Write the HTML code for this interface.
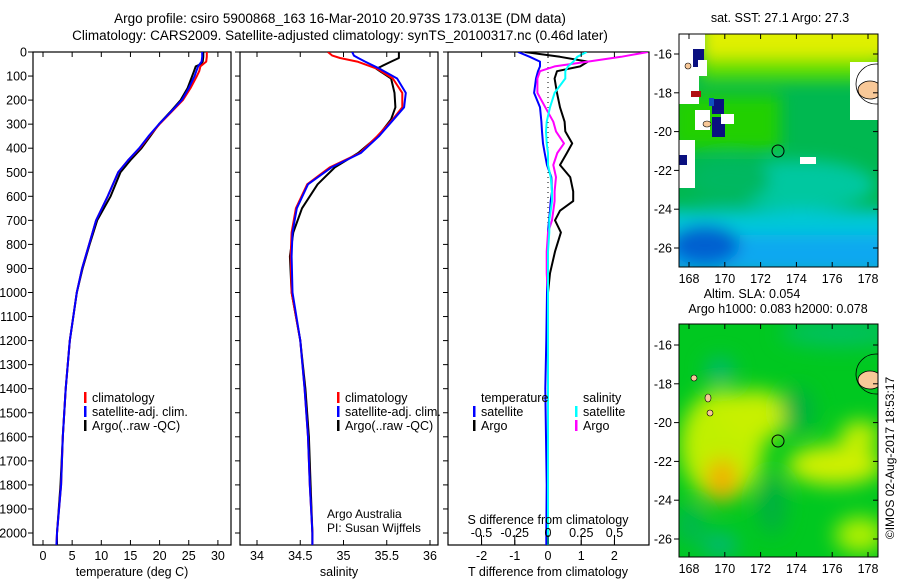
<!DOCTYPE html>
<html><head><meta charset="utf-8">
<style>
html,body{margin:0;padding:0;background:#fff;}
svg{display:block;font-family:"Liberation Sans",sans-serif;}
text{fill:#000;}
</style></head>
<body>
<svg id="chart" width="900" height="580" viewBox="0 0 900 580" xmlns="http://www.w3.org/2000/svg">
<defs>
  <clipPath id="clipP1"><rect x="33" y="52" width="198" height="493"/></clipPath>
  <clipPath id="clipP2"><rect x="240" y="52" width="198" height="493"/></clipPath>
  <clipPath id="clipP3"><rect x="448" y="52" width="201" height="493"/></clipPath>
  <clipPath id="clipM1"><rect x="679" y="34" width="199" height="233"/></clipPath>
  <clipPath id="clipM2"><rect x="679" y="324" width="199" height="233"/></clipPath>
  <filter id="blur1" x="-20%" y="-20%" width="140%" height="140%"><feGaussianBlur stdDeviation="8"/></filter>
  <filter id="blur2" x="-20%" y="-20%" width="140%" height="140%"><feGaussianBlur stdDeviation="10"/></filter>
</defs>

<text x="340" y="23" font-size="13.5" text-anchor="middle">Argo profile: csiro 5900868_163 16-Mar-2010 20.973S 173.013E (DM data)</text>
<text x="340" y="40" font-size="13.5" text-anchor="middle">Climatology: CARS2009. Satellite-adjusted climatology: synTS_20100317.nc (0.46d later)</text>

<!-- map 1 -->
<g>
  <text x="780" y="22" font-size="12.5" text-anchor="middle">sat. SST: 27.1 Argo: 27.3</text>
  <g clip-path="url(#clipM1)">
    <rect x="679" y="34" width="199" height="233" fill="#00b850"/>
    <g filter="url(#blur1)">
      <rect x="700" y="15" width="200" height="45" fill="#e0f000"/>
      <rect x="700" y="58" width="180" height="22" fill="#60e000"/>
      <rect x="670" y="95" width="110" height="55" fill="#20d000"/>
      <ellipse cx="800" cy="185" rx="75" ry="25" fill="#00c8a0"/>
      <ellipse cx="730" cy="180" rx="40" ry="22" fill="#00b860"/>
      <rect x="660" y="210" width="240" height="30" fill="#00c8d8"/>
      <rect x="660" y="235" width="240" height="40" fill="#10a8f0"/>
      <ellipse cx="705" cy="245" rx="35" ry="20" fill="#0060d0"/>
    </g>
    <rect x="679" y="34" width="20" height="70" fill="#fff"/>
    <rect x="693" y="34" width="12" height="15" fill="#fff"/>
    <rect x="693" y="49" width="11" height="18" fill="#0a1080"/>
    <rect x="698" y="60" width="9" height="16" fill="#fff"/>
    <rect x="712" y="99" width="12" height="15" fill="#0a1080"/>
    <rect x="709" y="98" width="5" height="8" fill="#1050c0"/>
    <rect x="691" y="91" width="10" height="6" fill="#b01010"/>
    <rect x="695" y="110" width="15" height="20" fill="#fff"/>
    <rect x="712" y="117" width="13" height="20" fill="#0a1080"/>
    <rect x="721" y="114" width="13" height="10" fill="#fff"/>
    <rect x="679" y="140" width="16" height="48" fill="#fff"/>
    <rect x="679" y="155" width="8" height="10" fill="#0a1080"/>
    <rect x="800" y="157" width="16" height="7" fill="#fff"/>
    <rect x="850" y="62" width="28" height="58" fill="#fff"/>
    <ellipse cx="870" cy="90" rx="12" ry="9" fill="#f8c898" stroke="#000" stroke-width="0.8"/>
    <circle cx="876" cy="84" r="20" fill="none" stroke="#000" stroke-width="0.8"/>
    <ellipse cx="707" cy="124" rx="4" ry="3" fill="#f8c898" stroke="#000" stroke-width="0.6"/>
    <ellipse cx="688" cy="66" rx="3" ry="3" fill="#f8c898" stroke="#000" stroke-width="0.6"/>
  </g>
  <circle cx="778" cy="151" r="6" fill="none" stroke="#000" stroke-width="1"/>
  <rect x="679" y="34" width="199" height="233" fill="none" stroke="#000" stroke-width="1"/>
  <g id="m1ticks" font-size="12.5"></g>
</g>

<!-- map 2 -->
<g>
  <text x="752" y="298" font-size="12.5" text-anchor="middle">Altim. SLA: 0.054</text>
  <text x="778" y="313" font-size="12.5" text-anchor="middle">Argo h1000: 0.083 h2000: 0.078</text>
  <g clip-path="url(#clipM2)">
    <rect x="679" y="324" width="199" height="233" fill="#00c820"/>
    <g filter="url(#blur2)">
      <ellipse cx="722" cy="445" rx="42" ry="55" fill="#c0f000"/>
      <ellipse cx="755" cy="415" rx="35" ry="25" fill="#c8f000"/>
      <ellipse cx="722" cy="480" rx="16" ry="22" fill="#f0b000"/>
      <ellipse cx="835" cy="465" rx="48" ry="20" fill="#d0f000"/>
      <ellipse cx="860" cy="435" rx="20" ry="14" fill="#c8f000"/>
      <ellipse cx="840" cy="333" rx="60" ry="14" fill="#00c060"/>
      <ellipse cx="720" cy="370" rx="14" ry="12" fill="#00b878"/>
      <ellipse cx="720" cy="545" rx="18" ry="12" fill="#00b878"/>
      <ellipse cx="798" cy="410" rx="16" ry="22" fill="#00b040"/>
      <ellipse cx="772" cy="505" rx="14" ry="30" fill="#00b040"/>
      <ellipse cx="860" cy="535" rx="25" ry="18" fill="#b0f000"/>
      <ellipse cx="690" cy="525" rx="14" ry="20" fill="#00b850"/>
    </g>
    <ellipse cx="870" cy="380" rx="12" ry="9" fill="#f8c898" stroke="#000" stroke-width="0.8"/>
    <circle cx="876" cy="374" r="20" fill="none" stroke="#000" stroke-width="0.8"/>
    <ellipse cx="694" cy="378" rx="3" ry="3" fill="#f8c898" stroke="#000" stroke-width="0.6"/>
    <ellipse cx="708" cy="398" rx="3" ry="4" fill="#f8c898" stroke="#000" stroke-width="0.6"/>
    <ellipse cx="710" cy="413" rx="3" ry="3" fill="#f8c898" stroke="#000" stroke-width="0.6"/>
  </g>
  <circle cx="778" cy="441" r="6" fill="none" stroke="#000" stroke-width="1"/>
  <rect x="679" y="324" width="199" height="233" fill="none" stroke="#000" stroke-width="1"/>
  <g id="m2ticks" font-size="12.5"></g>
</g>
<text x="0" y="0" font-size="12" transform="translate(894,458) rotate(-90)" text-anchor="middle">©IMOS 02-Aug-2017 18:53:17</text>

<g id="plots"></g>
</svg>

<script>
// ---- data ----
const tDepths = [0,20,40,50,60,80,100,150,200,250,300,350,400,450,500,600,700,800,900,1000,1200,1400,1600,1800,2000,2050];
const tempClim = [28.1,28.1,28.0,27.5,27.0,26.8,26.4,25.3,24.0,22.0,20.0,18.2,16.6,14.6,12.9,11.1,9.1,7.9,6.7,5.8,4.6,3.9,3.4,3.1,2.4,2.3];
const tempSat  = [27.3,27.3,27.2,26.9,26.6,26.3,26.0,25.0,23.8,21.9,19.9,18.1,16.5,14.6,12.9,11.1,9.1,7.9,6.7,5.8,4.6,3.9,3.4,3.1,2.4,2.3];
const tempArgo = [27.5,27.5,27.4,27.1,26.2,25.9,25.6,24.8,23.6,21.8,19.9,18.4,16.9,15.0,13.3,11.6,9.3,8.0,6.8,5.8,4.6,3.9,3.4,3.0,2.4,2.4];

const sDepths = [0,15,25,40,70,110,170,230,280,350,420,480,550,650,750,850,1000,1200,1400,1600,1800,2000,2050];
const salClim = [34.82,34.87,34.96,35.16,35.39,35.57,35.68,35.68,35.57,35.39,35.19,34.84,34.58,34.45,34.40,34.39,34.40,34.50,34.55,34.59,34.61,34.64,34.64];
const salSat  = [35.10,35.12,35.17,35.25,35.42,35.62,35.72,35.70,35.58,35.41,35.20,34.86,34.59,34.46,34.41,34.40,34.41,34.50,34.55,34.59,34.61,34.64,34.64];
const salArgo = [35.64,35.64,35.64,35.55,35.38,35.55,35.59,35.60,35.55,35.40,35.17,34.90,34.70,34.52,34.42,34.38,34.40,34.50,34.56,34.60,34.62,34.64,34.64];

const dDepths = [0,20,40,60,80,110,170,230,290,330,380,420,470,520,580,620,660,700,750,830,920,1000,1200,1400,1600,1800,2000,2050];
const tDiffArgo = [-0.7,0.36,1.2,0.97,0.27,0.2,0.27,0.36,0.5,0.52,0.73,0.57,0.36,0.67,0.76,0.76,0.36,0.21,0.39,0.21,0.06,0,0,0,0,0,0,0];
const tDiffSat  = [-0.9,-0.55,-0.24,-0.24,-0.3,-0.36,-0.42,-0.24,-0.2,-0.18,-0.15,-0.1,-0.03,0.1,0.12,0.08,0.06,0.03,0,0,-0.02,-0.03,-0.05,-0.08,-0.06,-0.04,-0.05,-0.05];
const sDiffArgo = [0.75,0.55,0.3,0.05,-0.06,-0.08,-0.08,-0.02,0.04,0.06,0.12,0.07,0.04,0.06,0.05,0.05,0.04,0.03,0.0,-0.01,-0.01,0,0,0,0,0,0,0];
const sDiffSat  = [0.29,0.22,0.19,0.15,0.13,0.13,0.05,0.015,-0.01,-0.015,-0.01,0,0,0.02,0.03,0.03,0.02,0.01,0.01,0,0,0,0,0,0,0,0,0];

const depthTicks = [0,100,200,300,400,500,600,700,800,900,1000,1100,1200,1300,1400,1500,1600,1700,1800,1900,2000];
const tempTicks = [0,5,10,15,20,25,30];
const salTicks = [34,34.5,35,35.5,36];
const salTickLabels = ["34","34.5","35","35.5","36"];
const tDiffTicks = [-2,-1,0,1,2];
const sDiffTicks = [-0.5,-0.25,0,0.25,0.5];
const sDiffTickLabels = ["-0.5","-0.25","0","0.25","0.5"];
const lonTicks = [168,170,172,174,176,178];
const latTicks = [-16,-18,-20,-22,-24,-26];

// ---- scales ----
const TOP = 52, BOT = 545;
const yD = d => TOP + d * 0.2405;
const xT = t => 43 + t * 5.83;
const xS = s => 257 + (s - 34) * 86.5;
const xTD = v => 548 + v * 33.2;
const xSD = v => 548 + v * 133;
const xLon = lon => 689 + (lon - 168) * 17.9;
const yLat1 = lat => 54 + (-16 - lat) * 19.4;
const yLat2 = lat => 345 + (-16 - lat) * 19.4;

const NS = "http://www.w3.org/2000/svg";
const root = document.getElementById('plots');
function mk(tag, attrs, parent) {
  const e = document.createElementNS(NS, tag);
  for (const k in attrs) e.setAttribute(k, attrs[k]);
  (parent || root).appendChild(e);
  return e;
}
function line(parent, vals, depths, xf, color, name, w) {
  const pts = vals.map((v, i) => xf(v).toFixed(1) + ',' + yD(depths[i]).toFixed(1)).join(' ');
  const p = mk('polyline', {points: pts, fill: 'none', stroke: color, 'stroke-width': w || 2, 'stroke-linejoin': 'round'}, parent);
  
  
  return p;
}
function txt(parent, x, y, s, anchor, size) {
  const t = mk('text', {x: x, y: y, 'font-size': size || 12.5, 'text-anchor': anchor || 'middle'}, parent);
  t.textContent = s;
  return t;
}

function panel(x0, w, clip, name) {
  const g = mk('g', {});
  
  
  mk('rect', {x: x0, y: TOP, width: w, height: BOT - TOP, fill: 'none', stroke: '#000', 'stroke-width': 1.2}, g);
  depthTicks.forEach(d => {
    mk('line', {x1: x0 - 5, x2: x0, y1: yD(d), y2: yD(d), stroke: '#000'}, g);
  });
  const inner = mk('g', {'clip-path': 'url(#' + clip + ')'}, g);
  return {g: g, inner: inner};
}

// Panel 1: temperature
const p1 = panel(33, 198, 'clipP1', 'temperature-panel');
const yAxis = mk('g', {});


depthTicks.forEach(d => {
  const t = txt(yAxis, 27, yD(d) + 4.5, String(d), 'end');
  
  
});
tempTicks.forEach(t => {
  mk('line', {x1: xT(t), x2: xT(t), y1: TOP, y2: TOP + 5, stroke: '#000'}, p1.g);
  mk('line', {x1: xT(t), x2: xT(t), y1: BOT, y2: BOT - 5, stroke: '#000'}, p1.g);
  txt(p1.g, xT(t), 560, String(t));
});
txt(p1.g, 132, 576, 'temperature (deg C)');
line(p1.inner, tempArgo, tDepths, xT, '#000', 'temp-argo-line');
line(p1.inner, tempClim, tDepths, xT, '#f00', 'temp-climatology-line');
line(p1.inner, tempSat, tDepths, xT, '#00f', 'temp-satellite-line');

// Panel 2: salinity
const p2 = panel(240, 198, 'clipP2', 'salinity-panel');
salTicks.forEach((s, i) => {
  mk('line', {x1: xS(s), x2: xS(s), y1: TOP, y2: TOP + 5, stroke: '#000'}, p2.g);
  mk('line', {x1: xS(s), x2: xS(s), y1: BOT, y2: BOT - 5, stroke: '#000'}, p2.g);
  txt(p2.g, xS(s), 560, salTickLabels[i]);
});
txt(p2.g, 339, 576, 'salinity');
txt(p2.g, 327, 518, 'Argo Australia', 'start', 12);
txt(p2.g, 327, 532, 'PI: Susan Wijffels', 'start', 12);
line(p2.inner, salArgo, sDepths, xS, '#000', 'sal-argo-line');
line(p2.inner, salClim, sDepths, xS, '#f00', 'sal-climatology-line');
line(p2.inner, salSat, sDepths, xS, '#00f', 'sal-satellite-line');

// Panel 3: differences
const p3 = panel(448, 201, 'clipP3', 'difference-panel');
tDiffTicks.forEach(v => {
  mk('line', {x1: xTD(v), x2: xTD(v), y1: TOP, y2: TOP + 5, stroke: '#000'}, p3.g);
  mk('line', {x1: xTD(v), x2: xTD(v), y1: BOT, y2: BOT - 5, stroke: '#000'}, p3.g);
  txt(p3.g, xTD(v), 560, String(v));
});
sDiffTicks.forEach((v, i) => {
  mk('line', {x1: xSD(v), x2: xSD(v), y1: BOT, y2: BOT - 10, stroke: '#000'}, p3.g);
  txt(p3.g, xSD(v), 537, sDiffTickLabels[i]);
});
txt(p3.g, 548, 524, 'S difference from climatology');
txt(p3.g, 548, 576, 'T difference from climatology');
mk('line', {x1: 548, x2: 548, y1: TOP, y2: yD(1000), stroke: '#000', 'stroke-dasharray': '1,4'}, p3.inner);
line(p3.inner, tDiffArgo, dDepths, xTD, '#000', 'tdiff-argo-line');
line(p3.inner, tDiffSat, dDepths, xTD, '#00f', 'tdiff-satellite-line');
line(p3.inner, sDiffArgo, dDepths, xSD, '#f0f', 'sdiff-argo-line');
line(p3.inner, sDiffSat, dDepths, xSD, '#0ff', 'sdiff-satellite-line');

// Legends
function legend(parent, x, y, color, label, name) {
  const g = mk('g', {}, parent);
  
  
  if (color) mk('rect', {x: x, y: y - 10, width: 2.5, height: 11, fill: color}, g);
  txt(g, x + 8, y, label, 'start', 12.5);
}
legend(p1.g, 84, 402, '#f00', 'climatology', 'legend-climatology');
legend(p1.g, 84, 416, '#00f', 'satellite-adj. clim.', 'legend-satellite-adj');
legend(p1.g, 84, 430, '#000', 'Argo(..raw -QC)', 'legend-argo');
legend(p2.g, 337, 402, '#f00', 'climatology', 'legend-climatology');
legend(p2.g, 337, 416, '#00f', 'satellite-adj. clim.', 'legend-satellite-adj');
legend(p2.g, 337, 430, '#000', 'Argo(..raw -QC)', 'legend-argo');
legend(p3.g, 473, 402, null, 'temperature', 'legend-temperature-header');
legend(p3.g, 473, 416, '#00f', 'satellite', 'legend-temp-satellite');
legend(p3.g, 473, 430, '#000', 'Argo', 'legend-temp-argo');
legend(p3.g, 575, 402, null, 'salinity', 'legend-salinity-header');
legend(p3.g, 575, 416, '#0ff', 'satellite', 'legend-sal-satellite');
legend(p3.g, 575, 430, '#f0f', 'Argo', 'legend-sal-argo');

// Map ticks
function mapTicks(gid, yLat, top, bot) {
  const g = document.getElementById(gid);
  latTicks.forEach(l => {
    mk('line', {x1: 674, x2: 679, y1: yLat(l), y2: yLat(l), stroke: '#000'}, g);
    mk('line', {x1: 873, x2: 878, y1: yLat(l), y2: yLat(l), stroke: '#000'}, g);
    txt(g, 672, yLat(l) + 4.5, String(l), 'end');
  });
  lonTicks.forEach(l => {
    mk('line', {x1: xLon(l), x2: xLon(l), y1: bot, y2: bot - 5, stroke: '#000'}, g);
    mk('line', {x1: xLon(l), x2: xLon(l), y1: top, y2: top + 5, stroke: '#000'}, g);
    txt(g, xLon(l), bot + 16, String(l));
  });
}
mapTicks('m1ticks', yLat1, 34, 267);
mapTicks('m2ticks', yLat2, 324, 557);
</script>
</body></html>
